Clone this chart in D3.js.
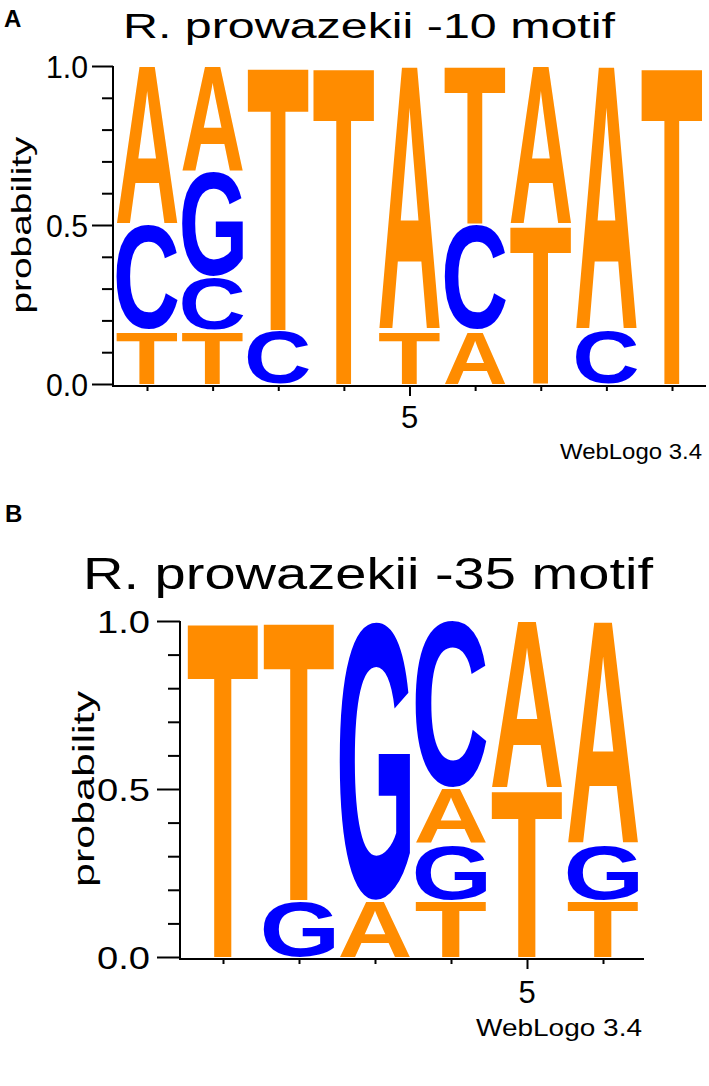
<!DOCTYPE html>
<html><head><meta charset="utf-8">
<script src="https://cdn.jsdelivr.net/npm/d3@7"></script>
<style>
html,body{margin:0;padding:0;background:#fff;}
svg{display:block;}
text{font-family:"Liberation Sans",Arial,Helvetica,sans-serif;}
</style>
</head><body>
<svg id="chart" width="709" height="1086"></svg>
<script>
// ---------- DATA ----------
const titleA = "R. prowazekii -10 motif";
const titleB = "R. prowazekii -35 motif";
const positionsA = [1,2,3,4,5,6,7,8,9];
const positionsB = [1,2,3,4,5,6];
// stacks listed bottom -> top
const lettersA = [["T","C","A"],["T","C","G","A"],["C","T"],["T"],["T","A"],["A","C","T"],["T","A"],["C","A"],["T"]];
const probsA   = [[0.167,0.333,0.5],[0.167,0.167,0.333,0.333],[0.167,0.833],[1.0],[0.167,0.833],[0.167,0.333,0.5],[0.5,0.5],[0.167,0.833],[1.0]];
const lettersB = [["T"],["G","T"],["A","G"],["T","G","A","C"],["T","A"],["T","G","A"]];
const probsB   = [[1.0],[0.167,0.833],[0.167,0.833],[0.167,0.167,0.167,0.5],[0.5,0.5],[0.167,0.167,0.666]];
const yMajorTicks = [0, 0.5, 1.0];
const yMajorLabels = ["0.0","0.5","1.0"];
const yMinorTicks = [0.1,0.2,0.3,0.4,0.6,0.7,0.8,0.9];
const xLabelledTick = 5;
const yAxisTitle = "probability";
const credit = "WebLogo 3.4";
const panelTags = ["A","B"];

// ---------- STYLE ----------
const colorOf = {A:"#ff8c00", T:"#ff8c00", C:"#0000ff", G:"#0000ff"};

const svg = d3.select("#chart");

// glyph ink metrics via canvas
const cvs = document.createElement("canvas");
const ctx = cvs.getContext("2d");
const GF = 200;
ctx.font = `bold ${GF}px "Liberation Sans"`;
const metrics = {};
["A","C","G","T"].forEach(ch=>{
  const m = ctx.measureText(ch);
  metrics[ch] = {l:m.actualBoundingBoxLeft, r:m.actualBoundingBoxRight, a:m.actualBoundingBoxAscent, d:m.actualBoundingBoxDescent};
});

function drawLogo(cfg){
  const g = svg.append("g");
  const x = d3.scaleLinear().domain([1, cfg.positions.length]).range([cfg.x1, cfg.xN]);
  const y = d3.scaleLinear().domain([0,1]).range([cfg.y0, cfg.y1]);
  const step = x(2)-x(1);
  const colW = step*0.93;

  // letters
  cfg.positions.forEach((p,i)=>{
    let cum = 0;
    const stack = cfg.letters[i].map((ch,j)=>{
      const o = {ch, lo:cum, hi:cum+cfg.probs[i][j]};
      cum += cfg.probs[i][j];
      return o;
    });
    g.append("g").selectAll("text").data(stack).join("text")
      .text(d=>d.ch)
      .attr("font-size", GF)
      .attr("font-weight","bold")
      .attr("fill", d=>colorOf[d.ch])
      .attr("transform", d=>{
        const m = metrics[d.ch];
        const x0 = x(p)-colW/2, x1 = x(p)+colW/2;
        const yb = y(d.lo) - (d.lo>0?1:0), yt = y(d.hi) + 1;
        const sx = (x1-x0)/(m.l+m.r), sy = (yb-yt)/(m.a+m.d);
        return `translate(${x0 + m.l*sx},${yb - m.d*sy}) scale(${sx},${sy})`;
      });
  });

  // y axis minor
  g.append("g").attr("transform",`translate(${cfg.ax},0)`)
    .call(d3.axisLeft(y).tickValues(yMinorTicks).tickSize(cfg.minorLen).tickFormat(""))
    .call(a=>a.select(".domain").remove())
    .call(a=>a.selectAll("line").attr("stroke","#000").attr("stroke-width",2));
  // y axis major
  const ya = g.append("g").attr("transform",`translate(${cfg.ax},0)`)
    .call(d3.axisLeft(y).tickValues(yMajorTicks).tickSize(cfg.majorLen).tickPadding(cfg.labelPad)
      .tickFormat((d,i)=>yMajorLabels[i]));
  ya.select(".domain").remove();
  ya.selectAll("line").attr("stroke","#000").attr("stroke-width",2);
  ya.selectAll("text").attr("font-size",cfg.tickFont).attr("fill","#000")
    .attr("font-family",'"Liberation Sans",Arial,sans-serif')
    .attr("dy","0.36em")
    .attr("textLength", cfg.tickLabelW).attr("lengthAdjust","spacingAndGlyphs");
  g.append("line").attr("x1",cfg.ax).attr("x2",cfg.ax).attr("y1",y(1)).attr("y2",y(0)+1)
    .attr("stroke","#000").attr("stroke-width",2);

  // x axis
  const xa = g.append("g").attr("transform",`translate(0,${cfg.y0+2})`)
    .call(d3.axisBottom(x).tickValues(cfg.positions).tickSize(cfg.xTickLen).tickFormat(""));
  xa.select(".domain").remove();
  xa.selectAll("line").attr("stroke","#000").attr("stroke-width",2)
    .attr("y2", d=> d===xLabelledTick ? cfg.xTickLen*2 : cfg.xTickLen);
  g.append("line").attr("x1",cfg.ax-1).attr("x2",cfg.axEnd).attr("y1",cfg.y0+2).attr("y2",cfg.y0+2)
    .attr("stroke","#000").attr("stroke-width",2);
  g.append("text").attr("x", x(xLabelledTick)).attr("y", cfg.fiveY)
    .attr("text-anchor","middle").attr("font-size",cfg.tickFont).text(String(xLabelledTick));

  // y title
  g.append("text").attr("transform",`translate(${cfg.ytX},${(y(0)+y(1))/2}) rotate(-90)`)
    .attr("text-anchor","middle").attr("font-size",cfg.ytFont)
    .attr("textLength",cfg.ytLen).attr("lengthAdjust","spacingAndGlyphs")
    .text(yAxisTitle);

  // title
  g.append("text").attr("x",cfg.titleX).attr("y",cfg.titleY).attr("font-size",cfg.titleFont)
    .attr("textLength",cfg.titleW).attr("lengthAdjust","spacingAndGlyphs").text(cfg.title);

  // credit
  g.append("text").attr("x",cfg.creditX).attr("y",cfg.creditY).attr("text-anchor","end")
    .attr("font-size",cfg.creditFont).attr("textLength",cfg.creditW).attr("lengthAdjust","spacingAndGlyphs")
    .text(credit);

  // panel tag
  g.append("text").attr("x",cfg.tagX).attr("y",cfg.tagY).attr("font-size",24).attr("font-weight","bold")
    .text(cfg.tag);
}

drawLogo({
  positions:positionsA, letters:lettersA, probs:probsA, title:titleA, tag:panelTags[0],
  x1:147, xN:672, y0:384, y1:66, ax:113, axEnd:706,
  minorLen:11, majorLen:21, labelPad:4, tickFont:31, tickLabelW:42, xTickLen:5,
  fiveY:428, ytX:31, ytFont:28, ytLen:177,
  titleX:123, titleY:38, titleFont:35, titleW:492,
  creditX:702, creditY:459, creditFont:22, creditW:142,
  tagX:4, tagY:27
});
drawLogo({
  positions:positionsB, letters:lettersB, probs:probsB, title:titleB, tag:panelTags[1],
  x1:223, xN:603, y0:957, y1:621, ax:180, axEnd:644,
  minorLen:12, majorLen:23, labelPad:7, tickFont:31, tickLabelW:53, xTickLen:5,
  fiveY:1003, ytX:94, ytFont:30, ytLen:196,
  titleX:83, titleY:589, titleFont:44, titleW:570,
  creditX:642, creditY:1036, creditFont:24, creditW:166,
  tagX:5, tagY:522
});
</script>
</body></html>
